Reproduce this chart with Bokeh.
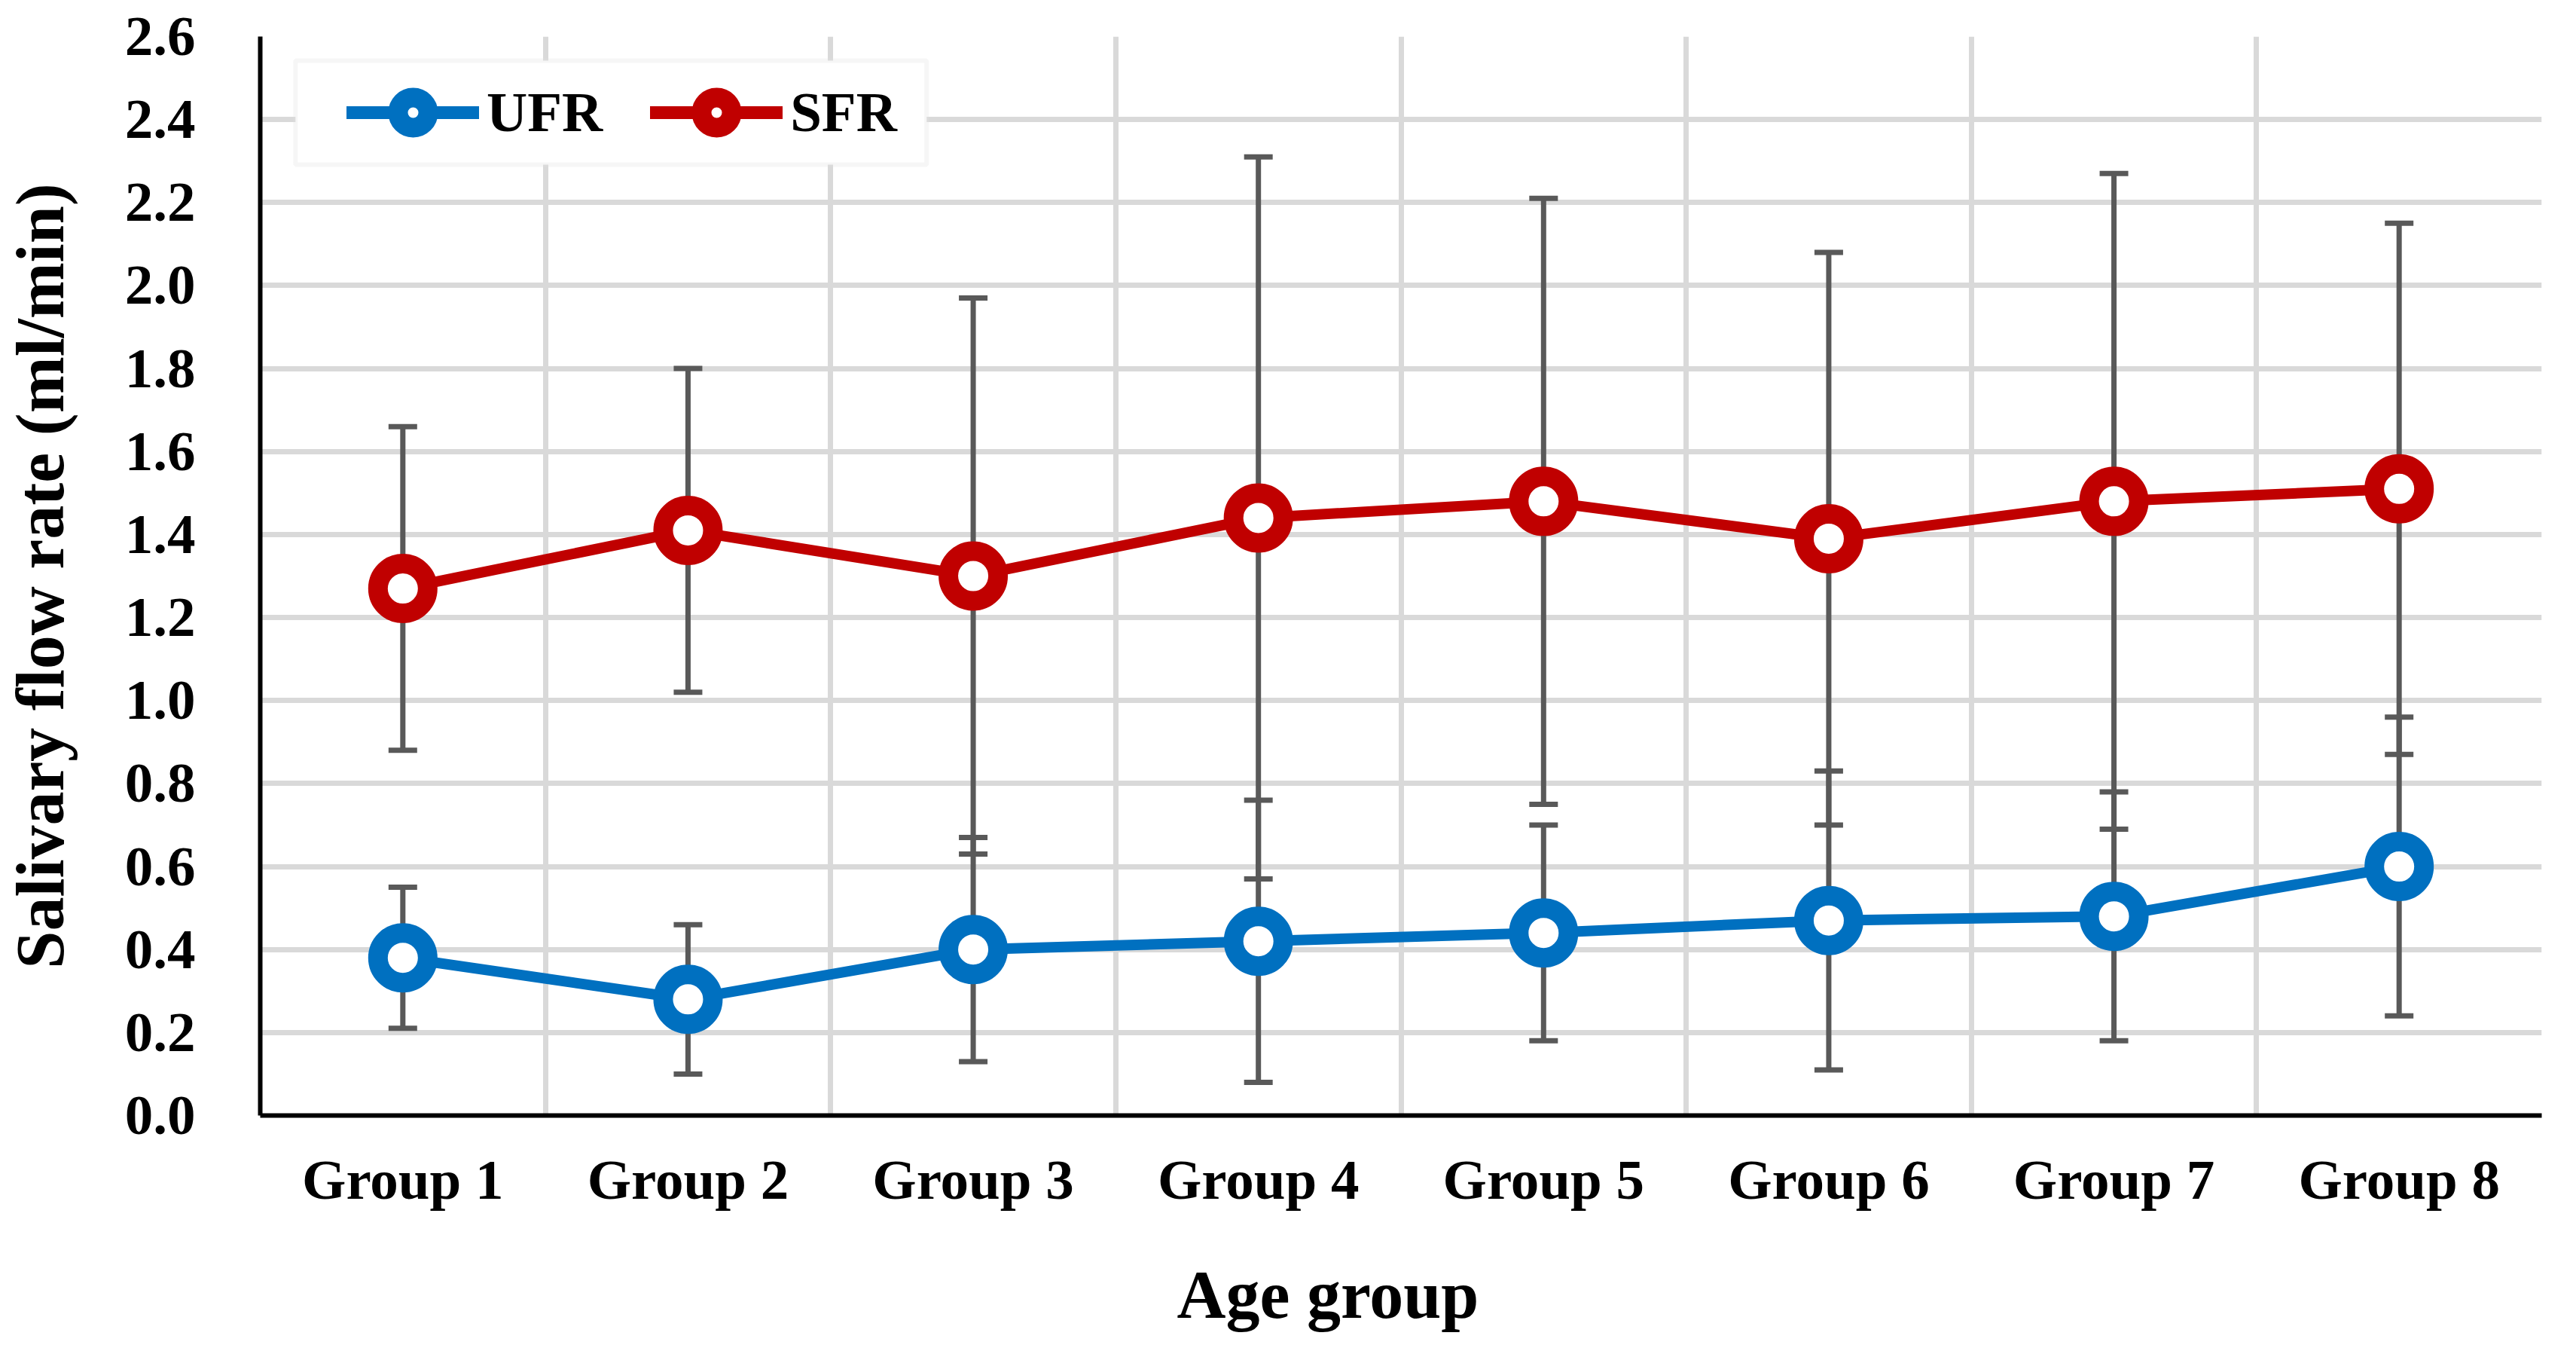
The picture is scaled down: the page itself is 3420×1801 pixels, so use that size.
import numpy as np
from bokeh.plotting import figure
from bokeh.models import (ColumnDataSource, Range1d, FixedTicker, Whisker, TeeHead,
                          Legend, LegendItem, BoxAnnotation, Title, PrintfTickFormatter)
from bokeh.embed import file_html
from bokeh.resources import INLINE

# ---- data ----
categories = ["Group 1", "Group 2", "Group 3", "Group 4", "Group 5", "Group 6", "Group 7", "Group 8"]
ufr_mean = [0.38, 0.28, 0.40, 0.42, 0.44, 0.47, 0.48, 0.60]
ufr_sd = [0.17, 0.18, 0.27, 0.34, 0.26, 0.36, 0.30, 0.36]
sfr_mean = [1.27, 1.41, 1.30, 1.44, 1.48, 1.39, 1.48, 1.51]
sfr_sd = [0.39, 0.39, 0.67, 0.87, 0.73, 0.69, 0.79, 0.64]
y_ticks = [0.0, 0.2, 0.4, 0.6, 0.8, 1.0, 1.2, 1.4, 1.6, 1.8, 2.0, 2.2, 2.4, 2.6]

FONT = "Liberation Serif"
BLUE = "#0070C0"
RED = "#C00000"
ERR = "#595959"
GRID = "#D9D9D9"

# layout constants (pixels)
FRAME_W, FRAME_H = 3040, 1432
PX_X = FRAME_W / len(categories)
PX_Y = FRAME_H / (y_ticks[-1] - y_ticks[0])

xpos = np.arange(len(categories)) + 0.5

def src(mean, sd):
    m = np.array(mean); s = np.array(sd)
    return ColumnDataSource(dict(x=xpos, y=m, upper=m + s, lower=m - s))

ufr_src = src(ufr_mean, ufr_sd)
sfr_src = src(sfr_mean, sfr_sd)

p = figure(width=3404, height=1785, output_backend="svg", toolbar_location=None,
           x_range=Range1d(0, len(categories)), y_range=Range1d(y_ticks[0], y_ticks[-1]),
           min_border_left=334, min_border_right=30, min_border_top=48, min_border_bottom=305)
p.outline_line_color = None
p.background_fill_color = "white"
p.border_fill_color = "white"

# grids
p.xgrid.ticker = FixedTicker(ticks=list(range(len(categories) + 1)))
p.ygrid.ticker = FixedTicker(ticks=y_ticks)
for g in (p.xgrid, p.ygrid):
    g.grid_line_color = GRID
    g.grid_line_width = 7

# axes
p.xaxis.ticker = FixedTicker(ticks=list(xpos))
p.xaxis.major_label_overrides = {float(x): c for x, c in zip(xpos, categories)}
p.yaxis.ticker = FixedTicker(ticks=y_ticks)
p.yaxis.formatter = PrintfTickFormatter(format="%.1f")
for ax in (p.xaxis, p.yaxis):
    ax.axis_line_color = "black"
    ax.axis_line_width = 6
    ax.major_tick_line_color = None
    ax.minor_tick_line_color = None
    ax.major_label_text_font = FONT
    ax.major_label_text_font_style = "bold"
    ax.major_label_text_font_size = "75px"
    ax.major_label_text_color = "black"
p.xaxis.major_label_standoff = 37
p.yaxis.major_label_standoff = 80

# blank spacer label on the x axis: pushes the x title down without moving tick labels
p.xaxis.axis_label = " "
p.xaxis.axis_label_text_font_size = "1px"
p.xaxis.axis_label_standoff = 53

p.yaxis.axis_label = "Salivary flow rate (ml/min)"
p.yaxis.axis_label_text_font = FONT
p.yaxis.axis_label_text_font_style = "bold"
p.yaxis.axis_label_text_font_size = "90px"
p.yaxis.axis_label_text_color = "black"
p.yaxis.axis_label_standoff = 60

# x-axis title (placed slightly left of the frame centre, as in the reference)
xt = Title(text="Age group", align="left", offset=1217, text_font=FONT,
           text_font_style="bold", text_font_size="90px", text_color="black", standoff=0)
p.add_layout(xt, "below")

# error bars
for s in (ufr_src, sfr_src):
    w = Whisker(source=s, base="x", upper="upper", lower="lower", dimension="height",
                line_color=ERR, line_width=7,
                upper_head=TeeHead(size=38, line_color=ERR, line_width=7),
                lower_head=TeeHead(size=38, line_color=ERR, line_width=7))
    p.add_layout(w)

# lines and markers
for s, c in ((ufr_src, BLUE), (sfr_src, RED)):
    p.line("x", "y", source=s, line_color=c, line_width=14, line_join="round")
for s, c in ((ufr_src, BLUE), (sfr_src, RED)):
    p.scatter("x", "y", source=s, marker="circle", size=66, line_color=c, line_width=26,
              fill_color="white")

# legend box
p.add_layout(BoxAnnotation(left=47 / PX_X, right=888 / PX_X,
                           top=1400 / PX_Y, bottom=1262 / PX_Y,
                           fill_color="white", fill_alpha=1.0,
                           line_color="#E2E2E2", line_width=6))

# legend proxies
items = []
for name, c in (("UFR", BLUE), ("SFR", RED)):
    ds = ColumnDataSource(dict(x=[np.nan], y=[np.nan]))
    lr = p.line("x", "y", source=ds, line_color=c, line_width=17, line_cap="round")
    sr = p.scatter("x", "y", source=ds, marker="circle", size=40, line_color=c,
                   line_width=26, fill_color="white")
    items.append(LegendItem(label=name, renderers=[lr, sr]))

legend = Legend(items=items, orientation="horizontal", location=(115, 1281),
                glyph_width=176, glyph_height=100, label_standoff=10, spacing=63,
                padding=0, margin=0, border_line_color=None, background_fill_alpha=0,
                label_text_font=FONT, label_text_font_style="bold",
                label_text_font_size="75px", label_text_color="black",
                label_text_baseline="middle")
p.add_layout(legend, "center")

open("out.html", "w").write(file_html(p, INLINE))
